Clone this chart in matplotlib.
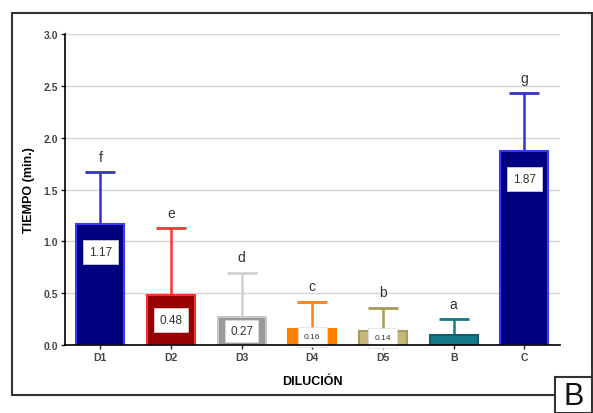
import matplotlib.pyplot as plt
from matplotlib.patches import Rectangle

plt.rcParams['font.family'] = ['Liberation Sans', 'DejaVu Sans']

# data
groups = ['D1', 'D2', 'D3', 'D4', 'D5', 'B', 'C']
means = [1.17, 0.48, 0.27, 0.16, 0.14, 0.10, 1.87]
upper = [1.67, 1.13, 0.70, 0.42, 0.36, 0.25, 2.43]
letters = ['f', 'e', 'd', 'c', 'b', 'a', 'g']
value_labels = ['1.17', '0.48', '0.27', '0.16', '0.14', '', '1.87']

fills = ['#000080', '#990000', '#9a9a9a', '#ff7f00', '#c4b97a', '#137a8a', '#000080']
edges = ['#3a3aff', '#ff3030', '#c8c8c8', '#ff7f00', '#a89c5a', '#0e5f6b', '#3a3aff']
errcols = ['#3333cc', '#ff3333', '#d0d0d0', '#ff7f1a', '#a89c5a', '#137a8a', '#3333cc']
label_sizes = [8.5, 8.5, 8.5, 6, 6, 6, 8.5]
label_pads = [0.5, 0.5, 0.45, 0.75, 0.75, 0.5, 0.5]

fig = plt.figure(figsize=(5.93, 4.14), dpi=100)
ax = fig.add_axes([0.1096, 0.164, 0.834, 0.7515])

x = list(range(len(groups)))
errs = [u - m for u, m in zip(upper, means)]

ax.yaxis.grid(True, color='#d4d4d4', linewidth=1)
ax.set_axisbelow(True)

for i in x:
    ax.errorbar(i, means[i], yerr=[[0], [errs[i]]], color=errcols[i],
                capsize=11, capthick=2, elinewidth=1.8, zorder=1)
ax.bar(x, means, width=0.68, color=fills, edgecolor=edges, linewidth=1.5, zorder=2)

for i in x:
    ax.text(i, upper[i] + 0.08, letters[i], ha='center', va='bottom',
            fontsize=10, color='#333333')
    if value_labels[i]:
        ypos = max(means[i] / 2, means[i] - 0.27)
        ax.text(i, ypos, value_labels[i], ha='center', va='center',
                fontsize=label_sizes[i], color='#333333', zorder=2.2,
                bbox=dict(boxstyle='square,pad=%.2f' % label_pads[i], fc='white',
                          ec='#dddddd', lw=0.5))

ax.set_xlim(-0.5, 6.5)
ax.set_ylim(0, 3.0)
ax.set_yticks([0, 0.5, 1.0, 1.5, 2.0, 2.5, 3.0])
ax.set_yticklabels(['0.0', '0.5', '1.0', '1.5', '2.0', '2.5', '3.0'])
ax.set_xticks(x)
ax.set_xticklabels(groups)
for lab in ax.get_xticklabels() + ax.get_yticklabels():
    lab.set_fontweight('bold')
    lab.set_fontsize(7.5)
    lab.set_color('#444444')
ax.tick_params(axis='both', length=3, width=1, color='#222222', pad=2)

for s in ['top', 'right']:
    ax.spines[s].set_visible(False)
ax.spines['left'].set_linewidth(1.2)
ax.spines['bottom'].set_linewidth(1.2)

ax.set_ylabel('TIEMPO (min.)', fontsize=9, fontweight='bold', labelpad=6)
ax.set_xlabel('DILUCIÓN', fontsize=9, fontweight='bold', labelpad=9)

# outer frame and panel letter
fig.patches.append(Rectangle((0.0202, 0.0435), 0.978, 0.9225, transform=fig.transFigure,
                             fill=False, ec='#333333', lw=1.5))
fig.patches.append(Rectangle((0.936, 0.0), 0.062, 0.087, transform=fig.transFigure,
                             fc='white', ec='#333333', lw=1.5))
fig.text(0.967, 0.04, 'B', ha='center', va='center', fontsize=22, color='#111111')

fig.savefig('out.png', dpi=100)
